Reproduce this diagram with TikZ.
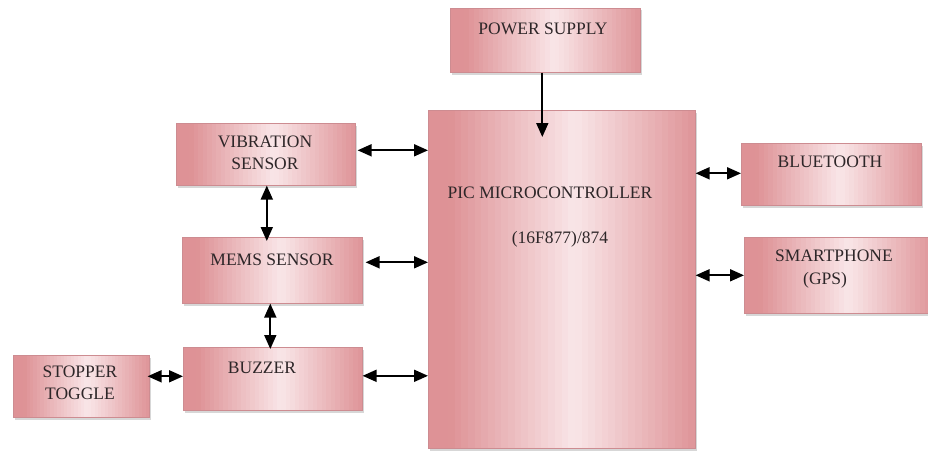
\documentclass[tikz,border=0pt]{standalone}
\usepackage{fontspec}
\setmainfont{Liberation Serif}
\usetikzlibrary{arrows.meta}
\definecolor{pkdark}{RGB}{222,146,150}
\definecolor{pklight}{RGB}{249,230,232}
\definecolor{pkedge}{RGB}{205,140,145}
\definecolor{txtc}{RGB}{45,38,40}
\tikzset{
  bigtip/.tip={Triangle[length=14pt,width=12pt]},
  box/.style={draw=pkedge, line width=0.6pt, anchor=north west, inner sep=0pt},
  shadowrect/.style={fill=black!45, opacity=0.35},
  lbl/.style={text=txtc, font=\fontsize{17.5}{20}\selectfont, align=center, inner sep=0pt},
  dbl/.style={bigtip-bigtip, line width=1.8pt, black},
  sgl/.style={-bigtip, line width=1.8pt, black}
}
% name, x, y, w, h
\newcommand\gbox[5]{%
  \fill[shadowrect] (#2+1.5,#3+2.5) rectangle ++(#4,#5);
  \foreach \i in {0,...,39}{%
    \pgfmathsetmacro\tmix{min(100,abs(\i/39-0.55)*2.1*100)}%
    \fill[pkdark!\tmix!pklight] ({#2+\i*#4/40},#3) rectangle ({#2+(\i+1)*#4/40+0.4},#3+#5);
  }%
  \node[box, minimum width=#4pt, minimum height=#5pt] (#1) at (#2,#3) {};
}
\begin{document}
\begin{tikzpicture}[x=1pt,y=-1pt]
\useasboundingbox (0,0) rectangle (928,452);
\clip (0,0) rectangle (928,452);
% boxes
\gbox{ps}{450}{8}{190}{64}
\gbox{pic}{428}{110}{267}{338}
\gbox{vib}{176}{123}{179}{62}
\gbox{mems}{182}{237}{180}{66}
\gbox{buz}{183}{347}{179}{63}
\gbox{stop}{13}{355}{136}{62}
\gbox{bt}{741}{143}{180}{62}
\gbox{sp}{744}{237}{190}{76}
% texts
\node[lbl] (tps) at (543,29) {POWER SUPPLY};
\node[lbl] (tpic1) at (550,193) {PIC MICROCONTROLLER};
\node[lbl] (tpic2) at (560,239) {(16F877)/874};
\node[lbl] (tvib) at (265,153) {VIBRATION\\[2pt]SENSOR};
\node[lbl] (tmems) at (272,260) {MEMS SENSOR};
\node[lbl] (tbuz) at (262,368) {BUZZER};
\node[lbl] (tstop) at (80,383) {STOPPER\\[2pt]TOGGLE};
\node[lbl] (tbt) at (830,162) {BLUETOOTH};
\node[lbl, anchor=west] (tsp1) at (775,256) {SMARTPHONE};
\node[lbl, anchor=west] (tsp2) at (803,280) {(GPS)};
% connectors
\draw[sgl] ([xshift=-3pt]ps.south) -- ([xshift=-3pt]ps.south |- 0,137);
\draw[dbl] ([xshift=2pt,yshift=4pt]vib.east) -- ([yshift=4pt]vib.east -| pic.west);
\draw[dbl] ([xshift=3pt,yshift=8pt]mems.east) -- ([yshift=8pt]mems.east -| pic.west);
\draw[dbl] ([yshift=3pt]buz.east) -- ([yshift=3pt]buz.east -| pic.west);
\draw[dbl] ([xshift=-2pt,yshift=10pt]stop.east) -- ([yshift=10pt]stop.east -| buz.west);
\draw[dbl] ([xshift=1pt]vib.south) -- ([xshift=1pt,yshift=-4pt]vib.south |- mems.north);
\draw[dbl] ([xshift=-2pt]mems.south) -- ([xshift=-2pt,yshift=-2pt]mems.south |- buz.north);
\draw[dbl] ([yshift=1pt]pic.east |- bt.west) -- ([yshift=1pt]bt.west);
\draw[dbl] (pic.east |- sp.west) -- (sp.west);
\end{tikzpicture}
\end{document}
